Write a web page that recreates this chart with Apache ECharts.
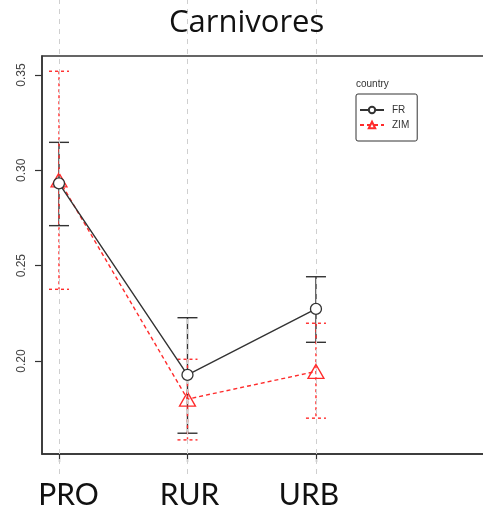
<!DOCTYPE html>
<html><head><meta charset="utf-8">
<script src="https://cdn.jsdelivr.net/npm/echarts@6/dist/echarts.min.js"></script>
<style>html,body{margin:0;padding:0;background:#fff}#c{width:483px;height:512px}</style>
</head><body><div id="c"></div>
<script>
const categories = ['PRO', 'RUR', 'URB'];
const xPos = [1, 2, 3];
const yTicks = [0.20, 0.25, 0.30, 0.35];
const frMean  = [0.2932, 0.1927, 0.2273];
const frUpper = [0.3147, 0.2227, 0.2442];
const frLower = [0.2710, 0.1621, 0.2098];
const zimMean  = [0.2950, 0.1800, 0.1945];
const zimUpper = [0.3520, 0.2009, 0.2198];
const zimLower = [0.2376, 0.1586, 0.1700];

const RED = '#ff2b2b', BLK = '#333333';
const X_MIN = 0.8677, X_MAX = 4.3234;
const labelFont = { fontFamily: 'Lato', fontSize: 30, color: '#111' };

function errBar(color, dash) {
  return function (params, api) {
    const x = api.value(0);
    const lo = api.coord([x, api.value(1)]);
    const hi = api.coord([x, api.value(2)]);
    const hw = 10;
    const style = { stroke: color, lineWidth: 1.4, lineDash: dash, fill: null };
    return { type: 'group', children: [
      { type: 'line', shape: { x1: hi[0], y1: hi[1], x2: lo[0], y2: lo[1] }, style },
      { type: 'line', shape: { x1: hi[0] - hw, y1: hi[1], x2: hi[0] + hw, y2: hi[1] }, style },
      { type: 'line', shape: { x1: lo[0] - hw, y1: lo[1], x2: lo[0] + hw, y2: lo[1] }, style }
    ]};
  };
}

const chart = echarts.init(document.getElementById('c'));
chart.setOption({
  animation: false,
  title: [
    { text: 'Carnivores', left: 169, top: 8, padding: 0,
      textStyle: { fontFamily: 'Open Sans', fontSize: 31, fontWeight: 'normal', color: '#111' } },
    { text: 'country', left: 356, top: 79, padding: 0,
      textStyle: { fontFamily: 'Liberation Sans', fontSize: 10, fontWeight: 'normal', color: '#333' } }
  ],
  legend: {
    orient: 'vertical', left: 356, top: 94,
    padding: [11, 8, 11, 3], itemGap: 5, itemWidth: 24, itemHeight: 8,
    borderColor: '#333', borderWidth: 1, borderRadius: 2,
    textStyle: { fontFamily: 'Liberation Sans', fontSize: 10, color: '#333', padding: [0, 0, 0, 3] },
    data: ['FR', 'ZIM']
  },
  grid: [
    { left: 42, width: 444, top: 56, bottom: 58, show: true, borderColor: BLK, borderWidth: 1.5,
      outerBoundsMode: 'none', containLabel: false },
    { left: 42, width: 444, top: 0, bottom: 38, outerBoundsMode: 'none', containLabel: false }
  ],
  xAxis: [
    { type: 'value', gridIndex: 0, min: X_MIN, max: X_MAX,
      axisLine: { show: true, lineStyle: { color: BLK, width: 1.5 } },
      axisTick: { show: true, length: 8, customValues: xPos, lineStyle: { color: BLK, width: 1.2 } },
      axisLabel: { customValues: xPos, margin: 26,
        formatter: v => { const i = Math.round(v) - 1; return '{c' + i + '|' + categories[i] + '}'; },
        rich: {
          c0: Object.assign({ padding: [0, 0, 0, 19] }, labelFont),
          c1: Object.assign({ padding: [0, 0, 0, 4] }, labelFont),
          c2: Object.assign({ padding: [0, 14, 0, 0] }, labelFont)
        },
        fontFamily: 'Lato', fontSize: 30, color: '#111' },
      splitLine: { show: false } },
    { type: 'value', gridIndex: 1, min: X_MIN, max: X_MAX, show: false }
  ],
  yAxis: [
    { type: 'value', gridIndex: 0, min: 0.1512, max: 0.36,
      axisLine: { show: true, lineStyle: { color: BLK, width: 1.5 } },
      axisTick: { show: true, length: 7, customValues: yTicks, lineStyle: { color: BLK, width: 1.2 } },
      axisLabel: { customValues: yTicks, rotate: 90, margin: 14, formatter: v => v.toFixed(2),
        fontFamily: 'Liberation Sans', fontSize: 12, color: '#444' },
      splitLine: { show: false } },
    { type: 'value', gridIndex: 1, min: 0, max: 1, show: false }
  ],
  series: [
    { type: 'line', xAxisIndex: 1, yAxisIndex: 1, data: [[1, 0.5]], showSymbol: false,
      lineStyle: { opacity: 0 }, silent: true, z: 0,
      markLine: { symbol: 'none', silent: true, label: { show: false },
        lineStyle: { color: '#cfcfcf', type: [5, 5], width: 1 },
        data: xPos.map(v => ({ xAxis: v })) } },
    { type: 'custom', name: 'frErr', xAxisIndex: 0, yAxisIndex: 0, z: 3,
      renderItem: errBar(BLK, null),
      data: xPos.map((x, i) => [x, frLower[i], frUpper[i]]) },
    { type: 'custom', name: 'zimErr', xAxisIndex: 0, yAxisIndex: 0, z: 3,
      renderItem: errBar(RED, [3, 3]),
      data: xPos.map((x, i) => [x, zimLower[i], zimUpper[i]]) },
    { type: 'line', name: 'FR', xAxisIndex: 0, yAxisIndex: 0, z: 5,
      data: xPos.map((x, i) => [x, frMean[i]]),
      symbol: 'circle', symbolSize: 11, showSymbol: true,
      lineStyle: { color: BLK, width: 1.4 },
      itemStyle: { color: '#fff', borderColor: BLK, borderWidth: 1.3 } },
    { type: 'line', name: 'ZIM', xAxisIndex: 0, yAxisIndex: 0, z: 4,
      data: xPos.map((x, i) => [x, zimMean[i]]),
      symbol: 'triangle', symbolSize: [16, 14], showSymbol: true,
      lineStyle: { color: RED, width: 1.4, type: [4, 3] },
      itemStyle: { color: 'rgba(255,255,255,0)', borderColor: RED, borderWidth: 1.3 } }
  ]
});
</script></body></html>
